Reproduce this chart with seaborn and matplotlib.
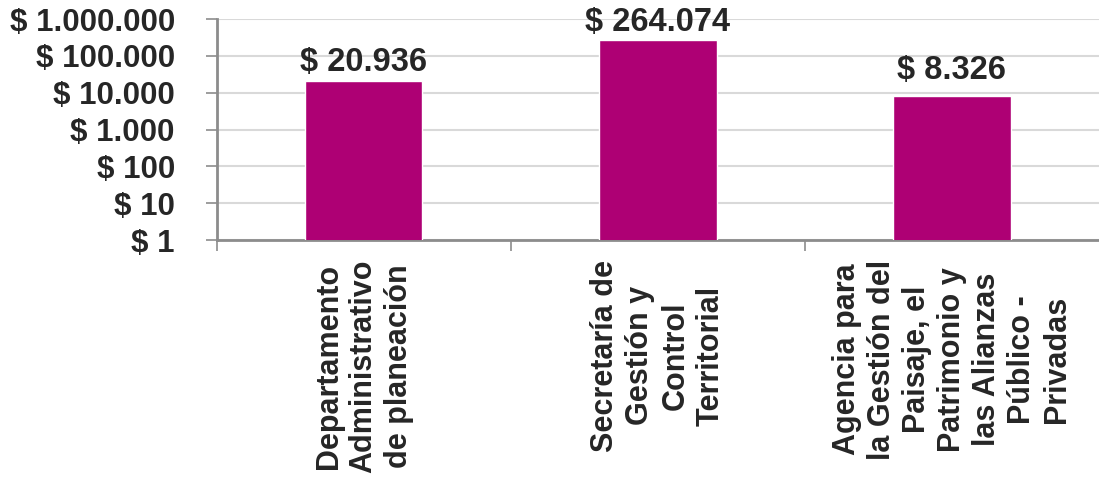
import matplotlib
matplotlib.use("Agg")
import matplotlib.pyplot as plt
import matplotlib.ticker as mticker
import pandas as pd
import seaborn as sns

entidades = ["Departamento\nAdministrativo\nde planeación",
             "Secretaría de\nGestión y\nControl\nTerritorial",
             "Agencia para\nla Gestión del\nPaisaje, el\nPatrimonio y\nlas Alianzas\nPúblico -\nPrivadas"]
valores = [20936, 264074, 8326]
etiquetas = ["$ 20.936", "$ 264.074", "$ 8.326"]

df = pd.DataFrame({"entidad": entidades, "valor": valores})

sns.set_style("white")
plt.rcParams['font.family'] = ['Liberation Sans', 'DejaVu Sans']
plt.rcParams['font.weight'] = 'bold'

fig, ax = plt.subplots(figsize=(10.99, 4.88), dpi=100)
fig.subplots_adjust(left=0.197, right=1.0, top=0.961, bottom=0.508)

ax.set_yscale('log')
sns.barplot(data=df, x="entidad", y="valor", color="#AE0074", saturation=1,
            width=0.4, ax=ax, zorder=3)

ax.set_ylim(1, 1e6)
ax.set_xlim(-0.5, 2.5)
ax.yaxis.set_major_locator(mticker.LogLocator(base=10, numticks=10))
ax.yaxis.set_minor_locator(mticker.NullLocator())
ax.yaxis.set_major_formatter(mticker.FuncFormatter(
    lambda v, p: "$ " + f"{v:,.0f}".replace(",", ".")))
ax.grid(axis='y', color='#d9d9d9', lw=1.5, zorder=0)
ax.set_axisbelow(True)

# bar labels
offs = [2, 2, 7]
for i, (v, t) in enumerate(zip(valores, etiquetas)):
    ax.annotate(t, (i, v), xytext=(0, offs[i]), textcoords='offset points',
                ha='center', va='bottom', fontsize=23.5, fontweight='bold')

# category separators as minor ticks
ax.set_xticks([-0.5, 0.5, 1.5], minor=True)
ax.tick_params(axis='x', which='minor', length=8, width=1.2, color='#8c8c8c',
               direction='out', bottom=True)
ax.tick_params(axis='x', which='major', length=0, pad=14)
ax.set_xticks(range(len(entidades)))
ax.set_xticklabels(entidades, rotation=90, ha='center', va='top',
                   multialignment='center', linespacing=1.22)
for lab in ax.get_xticklabels():
    lab.set_fontsize(22)
    lab.set_fontweight('bold')
ax.tick_params(axis='y', which='major', length=8, width=1.2, color='#8c8c8c',
               direction='out', left=True, pad=22, labelsize=22.5)
for lab in ax.get_yticklabels():
    lab.set_fontweight('bold')

for s in ['top', 'right']:
    ax.spines[s].set_visible(False)
for s in ['left', 'bottom']:
    ax.spines[s].set_color('#8c8c8c')
    ax.spines[s].set_linewidth(2)

ax.set_xlabel("")
ax.set_ylabel("")

fig.savefig("out.png", dpi=100)
